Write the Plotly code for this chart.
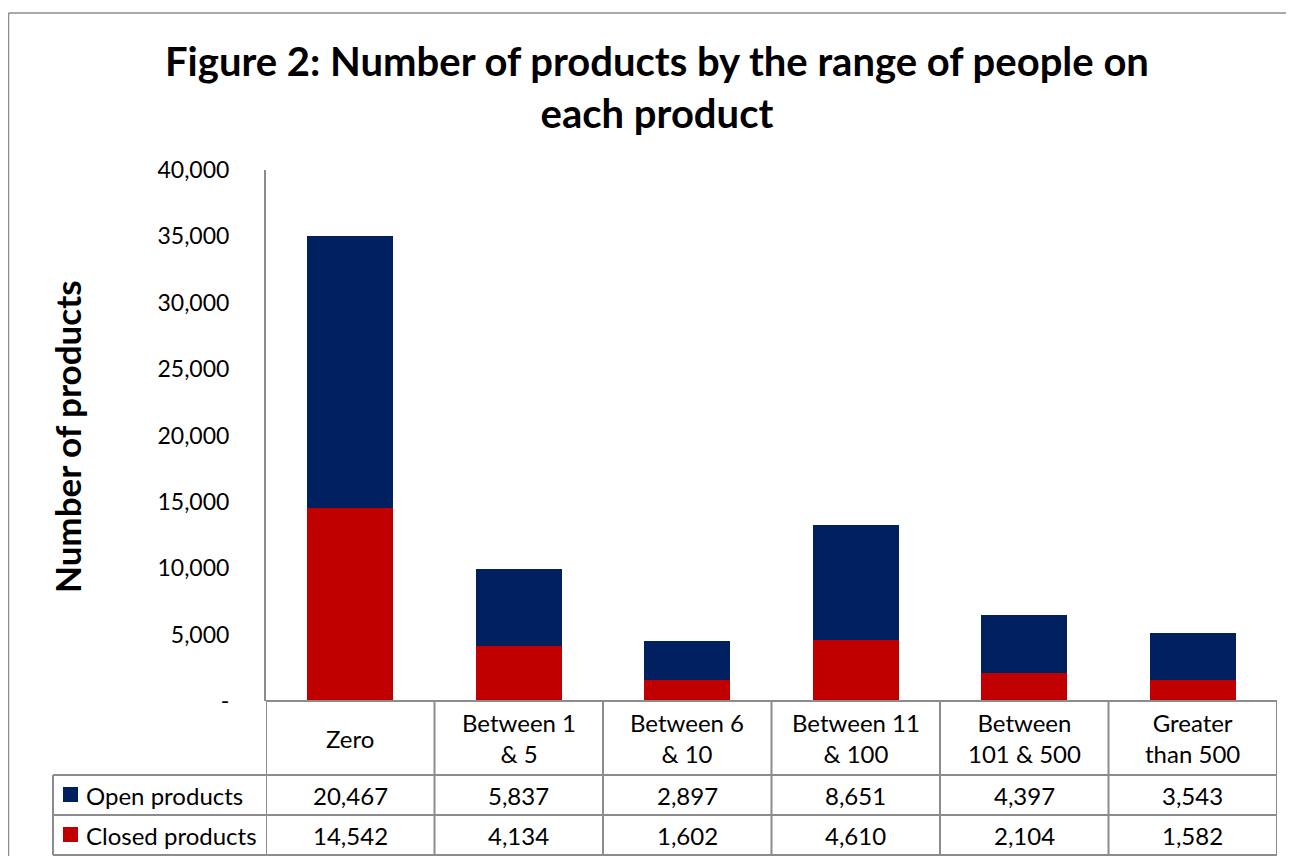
import plotly.graph_objects as go

categories = ["Zero", "Between 1<br>& 5", "Between 6<br>& 10", "Between 11<br>& 100", "Between<br>101 & 500", "Greater<br>than 500"]
open_products = [20467, 5837, 2897, 8651, 4397, 3543]
closed_products = [14542, 4134, 1602, 4610, 2104, 1582]
series_names = ["Open products", "Closed products"]
y_ticks = [0, 5000, 10000, 15000, 20000, 25000, 30000, 35000, 40000]
y_tick_labels = ["-", "5,000", "10,000", "15,000", "20,000", "25,000", "30,000", "35,000", "40,000"]

OFF = 8  # page body margin
W, H = 1294 - OFF, 864 - 2 * OFF  # keep the page inside the window (no scrollbars)
NAVY = "#002060"
RED = "#C00000"
GRID = "#8C8C8C"
FONT = "Lato, Carlito, 'Open Sans', sans-serif"

def px(p):
    return (p - OFF) / W

def py(p):
    return 1 - (p - OFF) / H

x_idx = list(range(len(categories)))

fig = go.Figure()
fig.add_trace(go.Bar(x=x_idx, y=closed_products, name=series_names[1], marker=dict(color=RED, line=dict(width=0))))
fig.add_trace(go.Bar(x=x_idx, y=open_products, name=series_names[0], marker=dict(color=NAVY, line=dict(width=0))))

# plot geometry (target pixels in the screenshot)
L, R, T, B = 266, 1277, 170, 701
ROW1, ROW2, ROW3 = 775, 815, 855
LEG_L = 53

shapes = []
# outer chart border: only top and left edges are visible in the frame
shapes.append(dict(type="line", xref="paper", yref="paper", x0=px(8.5), x1=1.0, y0=py(13), y1=py(13),
                   line=dict(color=GRID, width=1.5)))
shapes.append(dict(type="line", xref="paper", yref="paper", x0=px(8.5), x1=px(8.5), y0=0.0, y1=py(13),
                   line=dict(color=GRID, width=1.5)))
# table horizontal lines
shapes.append(dict(type="line", xref="paper", yref="paper", x0=px(L), x1=px(R), y0=py(B), y1=py(B), line=dict(color=GRID, width=2)))
for yy in (ROW1, ROW2, ROW3):
    shapes.append(dict(type="line", xref="paper", yref="paper", x0=px(LEG_L), x1=px(R), y0=py(yy), y1=py(yy), line=dict(color=GRID, width=2)))
# vertical lines between categories
for i in range(len(categories) + 1):
    xx = -0.5 + i
    shapes.append(dict(type="line", xref="x", yref="paper", x0=xx, x1=xx, y0=py(ROW3), y1=py(B), line=dict(color=GRID, width=2)))
shapes.append(dict(type="line", xref="paper", yref="paper", x0=px(LEG_L), x1=px(LEG_L), y0=py(ROW3), y1=py(ROW1), line=dict(color=GRID, width=2)))
# legend keys
for yy, col in ((795, NAVY), (835, RED)):
    shapes.append(dict(type="rect", xref="paper", yref="paper", x0=px(63), x1=px(78), y0=py(yy + 7), y1=py(yy - 8),
                       line=dict(width=0), fillcolor=col))

annotations = []
# category labels
for i, c in enumerate(categories):
    annotations.append(dict(x=i, y=py(738), xref="x", yref="paper", text=c, showarrow=False,
                            font=dict(family=FONT, size=24, color="#000"), align="center", yanchor="middle"))
# values
for row_y, vals in ((795, open_products), (835, closed_products)):
    for i, v in enumerate(vals):
        annotations.append(dict(x=i, y=py(row_y), xref="x", yref="paper", text=f"{v:,}", showarrow=False,
                                font=dict(family=FONT, size=24, color="#000"), yanchor="middle"))
# series names
for row_y, name in ((795, series_names[0]), (835, series_names[1])):
    annotations.append(dict(x=px(84), y=py(row_y), xref="paper", yref="paper", text=name, showarrow=False,
                            xanchor="left", yanchor="middle", font=dict(family=FONT, size=24, color="#000")))
# y-axis title
annotations.append(dict(x=px(67), y=py(437), xref="paper", yref="paper", text="<b>Number of products</b>",
                        showarrow=False, textangle=-90, font=dict(family=FONT, size=35, color="#000"),
                        xanchor="center", yanchor="middle"))
# title
annotations.append(dict(x=px(657), y=py(87), xref="paper", yref="paper",
                        text="<b>Figure 2: Number of products by the range of people on<br>each product</b>",
                        showarrow=False, font=dict(family=FONT, size=40, color="#000"),
                        xanchor="center", yanchor="middle", align="center"))

fig.update_layout(
    width=W, height=H, margin=dict(l=0, r=0, t=0, b=0, pad=0, autoexpand=False),
    paper_bgcolor="white", plot_bgcolor="white",
    barmode="stack", bargap=0.49, showlegend=False,
    font=dict(family=FONT, color="#000"),
    shapes=shapes, annotations=annotations,
    xaxis=dict(domain=[px(L), px(R)], range=[-0.5, len(categories) - 0.5], showticklabels=False,
               showgrid=False, zeroline=False, showline=False, fixedrange=True, automargin=False),
    yaxis=dict(domain=[py(B), py(T)], range=[0, 40000], tickvals=y_ticks, ticktext=y_tick_labels,
               showgrid=False, zeroline=False, showline=True, linecolor=GRID, linewidth=2,
               ticks="", ticklabelstandoff=30, tickfont=dict(family=FONT, size=23, color="#000"),
               fixedrange=True, automargin=False),
)

fig.write_html("out.html")
